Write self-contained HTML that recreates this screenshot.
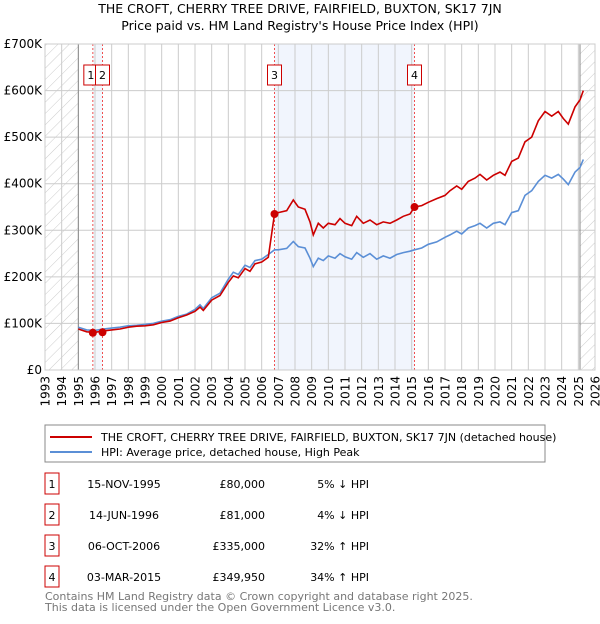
<!DOCTYPE html>
<html><head><meta charset="utf-8"><style>
body{margin:0;background:#fff;font-family:"DejaVu Sans","Liberation Sans",sans-serif;}
svg text{font-family:"DejaVu Sans","Liberation Sans",sans-serif;}
</style></head><body>
<svg id="chart" width="600" height="620" viewBox="0 0 600 620" xmlns="http://www.w3.org/2000/svg">
<defs><pattern id="hatch" patternUnits="userSpaceOnUse" width="8" height="8" patternTransform="rotate(45)"><line x1="0" y1="0" x2="0" y2="8" stroke="#ccc" stroke-width="1"/></pattern></defs>
<text x="300" y="13" text-anchor="middle" font-size="12.5" fill="#000">THE CROFT, CHERRY TREE DRIVE, FAIRFIELD, BUXTON, SK17 7JN</text>
<text x="300" y="30" text-anchor="middle" font-size="12.5" fill="#000">Price paid vs. HM Land Registry's House Price Index (HPI)</text>
<g id="plot"></g>
<rect x="45" y="425" width="500" height="37" fill="#fff" stroke="#888"/>
<line x1="50" y1="437" x2="92" y2="437" stroke="#cc0000" stroke-width="2"/>
<text x="101" y="441" font-size="11">THE CROFT, CHERRY TREE DRIVE, FAIRFIELD, BUXTON, SK17 7JN (detached house)</text>
<line x1="50" y1="452" x2="92" y2="452" stroke="#5b8fd6" stroke-width="2"/>
<text x="101" y="456" font-size="11">HPI: Average price, detached house, High Peak</text>
<g id="table" font-size="11"></g>
<text x="45" y="600" font-size="11" fill="#777">Contains HM Land Registry data © Crown copyright and database right 2025.</text>
<text x="45" y="611" font-size="11" fill="#777">This data is licensed under the Open Government Licence v3.0.</text>
</svg>
<script>
const hpiYears=[1995.0,1995.5,1996.0,1996.5,1997.0,1997.5,1998.0,1998.5,1999.0,1999.5,2000.0,2000.5,2001.0,2001.5,2002.0,2002.3,2002.5,2003.0,2003.5,2004.0,2004.3,2004.6,2005.0,2005.3,2005.6,2006.0,2006.4,2006.77,2007.0,2007.5,2007.9,2008.2,2008.6,2008.9,2009.1,2009.4,2009.7,2010.0,2010.4,2010.7,2011.0,2011.4,2011.7,2012.1,2012.5,2012.9,2013.3,2013.7,2014.1,2014.5,2014.9,2015.17,2015.6,2016.0,2016.5,2017.0,2017.3,2017.7,2018.0,2018.4,2018.8,2019.1,2019.5,2019.9,2020.3,2020.6,2021.0,2021.4,2021.8,2022.2,2022.6,2023.0,2023.4,2023.8,2024.1,2024.4,2024.8,2025.1,2025.3];
const hpiValues=[92,86,85,88,90,92,95,96,98,100,105,108,115,120,130,140,132,155,165,195,210,205,225,220,235,238,248,258,258,261,276,265,262,240,222,240,235,245,240,250,243,238,252,242,250,238,245,240,248,252,255,258,262,270,275,285,290,298,292,305,310,315,305,315,318,312,338,342,375,385,405,418,412,420,410,398,425,435,452];
const redValues=[88,82,81,84,86,88,92,94,95,97,102,105,112,118,126,135,128,150,160,188,202,198,218,212,228,232,242,335,338,342,365,350,345,318,290,315,305,315,312,325,315,310,330,315,322,312,318,315,322,330,335,350,353,360,368,375,385,395,388,405,412,420,408,418,425,418,448,455,490,500,535,555,545,555,540,528,565,580,600];
const saleYears=[1995.87,1996.45,2006.77,2015.17];
const salePrices=[80,81,335,349.95];
const saleLabels=["1","2","3","4"];
const yTicks=[0,100,200,300,400,500,600,700];
const yTickLabels=["£0","£100K","£200K","£300K","£400K","£500K","£600K","£700K"];
const rowDates=["15-NOV-1995","14-JUN-1996","06-OCT-2006","03-MAR-2015"];
const rowPrices=["£80,000","£81,000","£335,000","£349,950"];
const rowPcts=["5% ↓ HPI","4% ↓ HPI","32% ↑ HPI","34% ↑ HPI"];

const NS="http://www.w3.org/2000/svg";
const L=45,R=595,T=44,B=370;
const X=y=>L+(y-1993)*(R-L)/33;
const Y=v=>B-v*(B-T)/700;
const plot=document.getElementById('plot');
function mk(tag,attrs,parent){const e=document.createElementNS(NS,tag);for(const k in attrs)e.setAttribute(k,attrs[k]);(parent||plot).appendChild(e);return e;}

let e=mk('rect',{x:L,y:T,width:R-L,height:B-T,fill:'#fff'});


e=mk('rect',{x:X(1993),y:T,width:X(1995)-X(1993),height:B-T,fill:'url(#hatch)'});


e=mk('rect',{x:X(2025.1),y:T,width:R-X(2025.1),height:B-T,fill:'url(#hatch)'});


e=mk('rect',{x:X(saleYears[0]),y:T,width:X(saleYears[1])-X(saleYears[0]),height:B-T,fill:'#eef3fc',opacity:0.7});


e=mk('rect',{x:X(saleYears[2]),y:T,width:X(saleYears[3])-X(saleYears[2]),height:B-T,fill:'#eef3fc',opacity:0.8});



for(let yr=1993;yr<=2026;yr++){
  e=mk('line',{x1:X(yr),x2:X(yr),y1:T,y2:B,stroke:'#ccc','stroke-width':1});
  
  
  const t=mk('text',{transform:`translate(${X(yr)+4.5},${B+6}) rotate(-90)`,'text-anchor':'end','font-size':12});
  t.textContent=yr;
  
  
}
yTicks.forEach((v,i)=>{
  e=mk('line',{x1:L,x2:R,y1:Y(v),y2:Y(v),stroke:'#ccc','stroke-width':1});
  
  
  const t=mk('text',{x:L-3,y:Y(v)+4,'text-anchor':'end','font-size':12});
  t.textContent=yTickLabels[i];
  
  
});
e=mk('line',{x1:X(1995),x2:X(1995),y1:T,y2:B,stroke:'#888'});


e=mk('line',{x1:X(2025.1),x2:X(2025.1),y1:T,y2:B,stroke:'#888'});



saleYears.forEach((s,i)=>{
  e=mk('line',{x1:X(s),x2:X(s),y1:T,y2:B,stroke:'#f05050','stroke-dasharray':'2,2'});
  
  
});

const hp=hpiYears.map((y,i)=>X(y).toFixed(1)+','+Y(hpiValues[i]).toFixed(1)).join(' ');
e=mk('polyline',{points:hp,fill:'none',stroke:'#5b8fd6','stroke-width':1.6});


const rp=hpiYears.map((y,i)=>X(y).toFixed(1)+','+Y(redValues[i]).toFixed(1)).join(' ');
e=mk('polyline',{points:rp,fill:'none',stroke:'#cc0000','stroke-width':1.6});



saleYears.forEach((s,i)=>{
  e=mk('circle',{cx:X(s),cy:Y(salePrices[i]),r:4,fill:'#cc0000'});
  
  
  const g=mk('g',{});
  
  
  const x0=i==0?X(s)-9:X(s)-7;
  mk('rect',{x:x0,y:65,width:14,height:20,fill:'#fff',stroke:'#cc0000'},g);
  const t=mk('text',{x:x0+7,y:79,'text-anchor':'middle','font-size':11},g);
  t.textContent=saleLabels[i];
});
e=mk('rect',{x:L,y:T,width:R-L,height:B-T,fill:'none',stroke:'#ccc'});



const tb=document.getElementById('table');
rowDates.forEach((d,i)=>{
  const yc=484+i*31;
  const g=mk('g',{},tb);
  
  
  mk('rect',{x:45,y:yc-11,width:14,height:21,fill:'#fff',stroke:'#cc0000'},g);
  let t=mk('text',{x:52,y:yc+4,'text-anchor':'middle'},g);t.textContent=saleLabels[i];
  t=mk('text',{x:124,y:yc+4,'text-anchor':'middle'},g);t.textContent=d;
  t=mk('text',{x:265,y:yc+4,'text-anchor':'end'},g);t.textContent=rowPrices[i];
  t=mk('text',{x:369,y:yc+4,'text-anchor':'end'},g);t.textContent=rowPcts[i];
});
</script>
</body></html>
